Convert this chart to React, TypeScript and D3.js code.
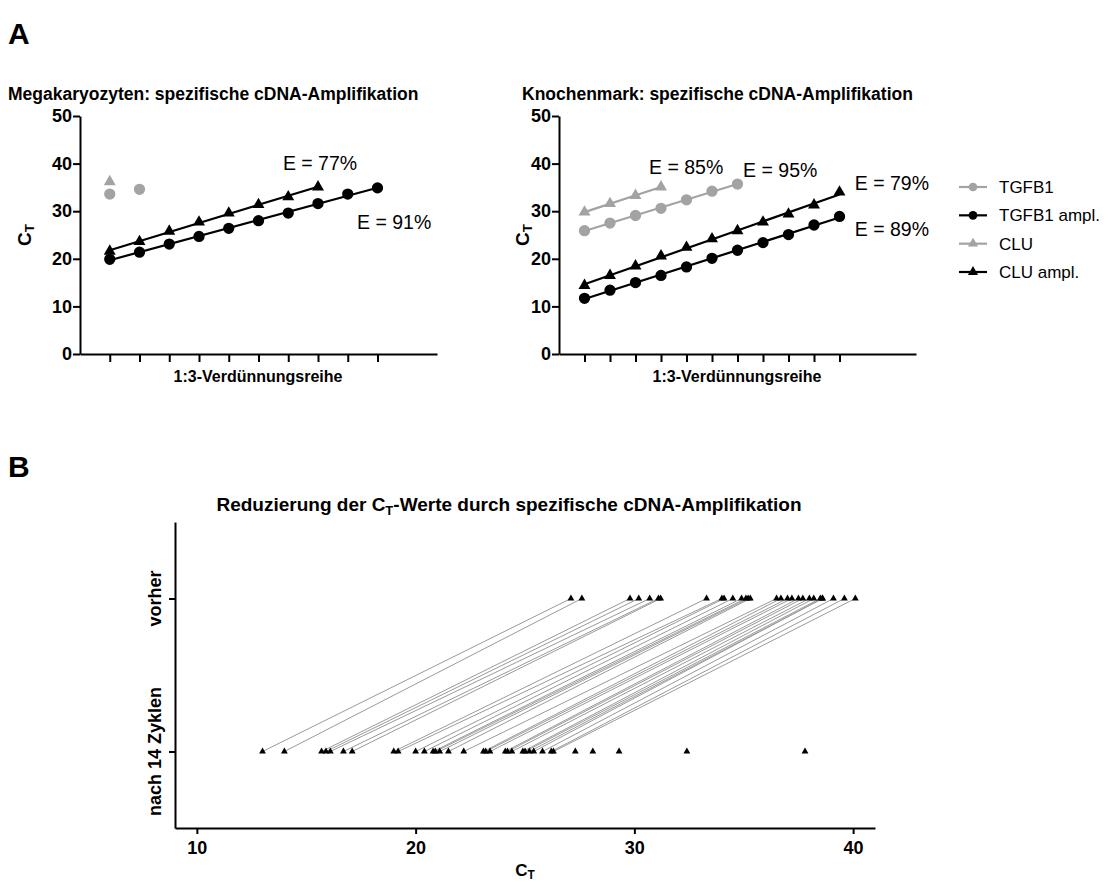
import * as d3 from "d3";
import React, { useRef, useEffect } from "react";

const FONT = "'Liberation Sans', Arial, Helvetica, sans-serif";
const GRAY = "#a3a3a3";

// A: Ct values along the 1:3 dilution series (step 1, 2, 3 ...)
const megTGFB1 = [33.6, 34.6];
const megCLU = [36.2];
const megTGFB1ampl = [19.9, 21.4, 23.1, 24.7, 26.4, 28.0, 29.6, 31.6, 33.6, 34.9];
const megCLUampl = [21.6, 23.6, 25.8, 27.7, 29.6, 31.4, 33.0, 35.1];

const kmTGFB1 = [25.9, 27.5, 29.1, 30.6, 32.4, 34.2, 35.7];
const kmCLU = [29.8, 31.6, 33.3, 35.1];
const kmTGFB1ampl = [11.7, 13.4, 15.0, 16.5, 18.3, 20.1, 21.8, 23.4, 25.1, 27.1, 28.9];
const kmCLUampl = [14.4, 16.5, 18.5, 20.6, 22.4, 24.2, 25.9, 27.7, 29.4, 31.3, 34.0];

const yTicksA = [0, 10, 20, 30, 40, 50];
const legendNames = ["TGFB1", "TGFB1 ampl.", "CLU", "CLU ampl."];

// B: paired Ct values before / after 14 cycles of amplification
const groupsB = ["vorher", "nach 14 Zyklen"];
const xTicksB = [10, 20, 30, 40];
const vorher = [27.1, 27.6, 29.8, 30.2, 30.7, 31.1, 31.2, 33.3, 34.0, 34.1, 34.5, 34.9, 35.1, 35.2, 35.3,
  36.5, 36.7, 37.0, 37.2, 37.5, 37.7, 38.0, 38.2, 38.5, 38.6, 38.6, 39.1, 39.6, 40.1];
const nach14 = [13.0, 14.0, 15.7, 15.9, 16.1, 16.7, 17.1, 19.0, 19.2, 20.0, 20.4, 20.8, 20.9, 21.1, 21.5,
  22.2, 23.1, 23.2, 23.4, 24.1, 24.2, 24.4, 24.9, 25.0, 25.2, 25.4, 25.8, 26.2, 26.3];
const nachOnly = [27.3, 28.1, 29.3, 32.4, 37.8];

const fitLine = (vals) => {
  const xs = vals.map((_, i) => i + 1);
  const mx = d3.mean(xs), my = d3.mean(vals);
  const b = d3.sum(xs, (xi, i) => (xi - mx) * (vals[i] - my)) / d3.sum(xs, (xi) => (xi - mx) ** 2);
  const a = my - b * mx;
  const n = vals.length;
  return [[1, a + b], [n, a + b * n]];
};

function App() {
  const ref = useRef();

  useEffect(() => {
    document.body.style.margin = "0";
    const svg = d3.select(ref.current);
    svg.selectAll("*").remove();
    draw(svg);
  }, []);

  const styleAxis = (ax, size) => {
    ax.attr("font-family", FONT).attr("font-size", size);
    ax.select(".domain").attr("stroke", "#000").attr("stroke-width", 2);
    ax.selectAll(".tick line").attr("stroke", "#000").attr("stroke-width", 2);
    ax.selectAll(".tick text").attr("fill", "#000").attr("font-weight", "bold");
  };

  const ctLabel = (sel, x, y, rotate, size) => {
    const t = sel.append("text")
      .attr("font-family", FONT).attr("font-weight", "bold").attr("font-size", size)
      .attr("text-anchor", "middle");
    if (rotate) t.attr("transform", "translate(" + x + "," + y + ")rotate(-90)");
    else t.attr("x", x).attr("y", y);
    t.append("tspan").text("C");
    t.append("tspan").attr("font-size", size * 0.7).attr("dy", "0.25em").text("T");
  };

  const marker = (shape, size) =>
    d3.symbol().type(shape === "circle" ? d3.symbolCircle : d3.symbolTriangle).size(size)();

  const drawPanelA = (svg, o) => {
    const nSteps = d3.max(o.series, (s) => s.values.length);
    const x = d3.scaleLinear().domain([0, o.xMax]).range([o.x0, o.x0 + 357]);
    const y = d3.scaleLinear().domain([0, 50]).range([354, 116]);
    const g = svg.append("g");

    const ya = g.append("g").attr("transform", "translate(" + o.x0 + ",0)")
      .call(d3.axisLeft(y).tickValues(yTicksA).tickSize(7).tickPadding(1).tickSizeOuter(0));
    styleAxis(ya, 18);
    const xa = g.append("g").attr("transform", "translate(0,354)")
      .call(d3.axisBottom(x).tickValues(d3.range(1, nSteps + 1)).tickFormat(() => "").tickSize(8).tickSizeOuter(0));
    styleAxis(xa, 18);

    g.append("text").attr("x", o.titleX).attr("y", 100)
      .attr("font-family", FONT).attr("font-weight", "bold").attr("font-size", 17.5)
      .text(o.title);
    g.append("text").attr("x", o.x0 + 178).attr("y", 382).attr("text-anchor", "middle")
      .attr("font-family", FONT).attr("font-weight", "bold").attr("font-size", 16)
      .text("1:3-Verdünnungsreihe");
    ctLabel(g, o.ctX, y(25), true, 19);

    const line = d3.line().x((d) => x(d[0])).y((d) => y(d[1]));
    o.series.filter((s) => s.fit).forEach((s) => {
      g.append("path").attr("d", line(fitLine(s.values)))
        .attr("fill", "none").attr("stroke", s.color).attr("stroke-width", 2.2);
    });
    o.series.forEach((s) => {
      g.append("g").selectAll("path").data(s.values).enter().append("path")
        .attr("d", marker(s.shape, s.shape === "circle" ? 100 : 62))
        .attr("transform", (d, i) => "translate(" + x(i + 1) + "," + y(d) + ")")
        .attr("fill", s.color);
    });

    o.notes.forEach((n) => {
      g.append("text").attr("x", x(n.at[0])).attr("y", y(n.at[1]))
        .attr("font-family", FONT).attr("font-size", 19.5).text(n.text);
    });
  };

  const draw = (svg) => {
    svg.append("text").attr("x", 8).attr("y", 44)
      .attr("font-family", FONT).attr("font-weight", "bold").attr("font-size", 30).text("A");
    svg.append("text").attr("x", 8).attr("y", 477)
      .attr("font-family", FONT).attr("font-weight", "bold").attr("font-size", 30).text("B");

    drawPanelA(svg, {
      x0: 80, xMax: 12, titleX: 8, ctX: 31,
      title: "Megakaryozyten: spezifische cDNA-Amplifikation",
      series: [
        { values: megTGFB1, color: GRAY, shape: "circle", fit: false },
        { values: megCLU, color: GRAY, shape: "triangle", fit: false },
        { values: megTGFB1ampl, color: "#000", shape: "circle", fit: true },
        { values: megCLUampl, color: "#000", shape: "triangle", fit: true },
      ],
      notes: [
        { text: "E = 77%", at: [6.82, 38.7] },
        { text: "E = 91%", at: [9.31, 26.3] },
      ],
    });

    drawPanelA(svg, {
      x0: 559, xMax: 14, titleX: 522, ctX: 529,
      title: "Knochenmark: spezifische cDNA-Amplifikation",
      series: [
        { values: kmTGFB1, color: GRAY, shape: "circle", fit: true },
        { values: kmCLU, color: GRAY, shape: "triangle", fit: true },
        { values: kmTGFB1ampl, color: "#000", shape: "circle", fit: true },
        { values: kmCLUampl, color: "#000", shape: "triangle", fit: true },
      ],
      notes: [
        { text: "E = 85%", at: [3.53, 37.8] },
        { text: "E = 95%", at: [7.22, 37.2] },
        { text: "E = 79%", at: [11.6, 34.5] },
        { text: "E = 89%", at: [11.6, 24.8] },
      ],
    });

    // legend
    const legColors = [GRAY, "#000", GRAY, "#000"];
    const legShapes = ["circle", "circle", "triangle", "triangle"];
    const ly = d3.scalePoint().domain(legendNames).range([187, 272]);
    const lg = svg.append("g").selectAll("g").data(legendNames).enter().append("g")
      .attr("transform", (d) => "translate(959," + ly(d) + ")");
    lg.append("line").attr("x1", 0).attr("x2", 28)
      .attr("stroke", (d, i) => legColors[i]).attr("stroke-width", 2.2);
    lg.append("path").attr("transform", "translate(14,0)")
      .attr("d", (d, i) => marker(legShapes[i], legShapes[i] === "circle" ? 60 : 45))
      .attr("fill", (d, i) => legColors[i]);
    lg.append("text").attr("x", 40).attr("dy", "0.35em")
      .attr("font-family", FONT).attr("font-size", 17).text((d) => d);

    // panel B
    const xb = d3.scaleLinear().domain([9, 41]).range([175, 875]);
    const yb = d3.scalePoint().domain(groupsB).range([522, 828]).padding(0.5);
    const gb = svg.append("g");

    const xba = gb.append("g").attr("transform", "translate(0,828)")
      .call(d3.axisBottom(xb).tickValues(xTicksB).tickSize(6).tickPadding(7).tickSizeOuter(0));
    styleAxis(xba, 18);
    const yba = gb.append("g").attr("transform", "translate(175,0)")
      .call(d3.axisLeft(yb).tickFormat(() => "").tickSize(6).tickSizeOuter(0));
    styleAxis(yba, 18);
    groupsB.forEach((gname) => {
      gb.append("text").attr("transform", "translate(161," + yb(gname) + ")rotate(-90)")
        .attr("text-anchor", "middle").attr("font-family", FONT).attr("font-weight", "bold")
        .attr("font-size", 18).text(gname);
    });

    const tt = gb.append("text").attr("x", 509).attr("y", 511).attr("text-anchor", "middle")
      .attr("font-family", FONT).attr("font-weight", "bold").attr("font-size", 19);
    tt.append("tspan").text("Reduzierung der C");
    tt.append("tspan").attr("font-size", 13).attr("dy", "0.3em").text("T");
    tt.append("tspan").attr("dy", "-0.2em").text("-Werte durch spezifische cDNA-Amplifikation");

    ctLabel(gb, xb(25), 876, false, 17);

    gb.append("g").selectAll("line").data(vorher).enter().append("line")
      .attr("x1", (d) => xb(d)).attr("y1", yb(groupsB[0]))
      .attr("x2", (d, i) => xb(nach14[i])).attr("y2", yb(groupsB[1]))
      .attr("stroke", "#9a9a9a").attr("stroke-width", 1);

    const tri = marker("triangle", 20);
    gb.append("g").selectAll("path").data(vorher).enter().append("path")
      .attr("d", tri).attr("transform", (d) => "translate(" + xb(d) + "," + yb(groupsB[0]) + ")");
    gb.append("g").selectAll("path").data(nach14.concat(nachOnly)).enter().append("path")
      .attr("d", tri).attr("transform", (d) => "translate(" + xb(d) + "," + yb(groupsB[1]) + ")");
  };

  return (
    <div className="Chart">
      <svg ref={ref} width={1110} height={882} style={{ display: "block" }}></svg>
    </div>
  );
}

export default App;
